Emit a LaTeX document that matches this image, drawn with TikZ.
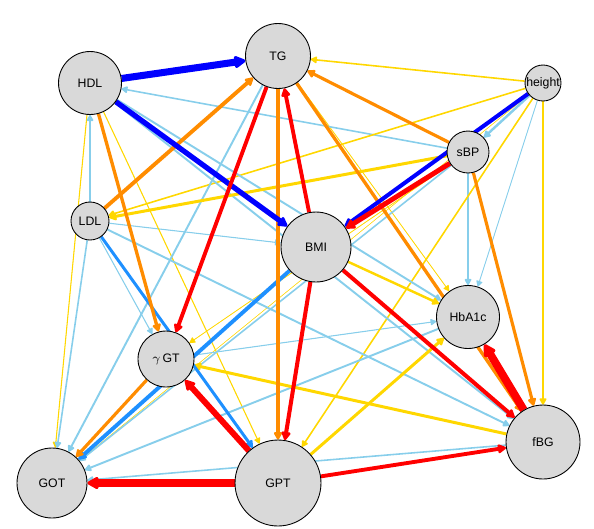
\documentclass[tikz,border=0pt]{standalone}
\usepackage{fontspec}
\setmainfont{Liberation Sans}
\usetikzlibrary{arrows.meta,backgrounds}

\definecolor{nodegray}{RGB}{217,217,217}
\definecolor{skyblue}{RGB}{135,206,235}
\definecolor{dodgerblue}{RGB}{30,144,255}
\definecolor{darkorange}{RGB}{255,140,0}
\definecolor{gold}{RGB}{255,215,0}

\tikzset{
	var/.style={draw, circle, fill=nodegray, inner sep=0pt, line width=0.5pt, font=\fontsize{7}{8}\selectfont},
	link/.style={-{Triangle[length=3pt 1.1, width=3.2pt 1.1, round]}},
	bluelink/.style={link, draw=blue, fill=blue},
	redlink/.style={link, draw=red, fill=red},
	orangelink/.style={link, draw=darkorange, fill=darkorange},
	goldlink/.style={link, draw=gold, fill=gold},
	skylink/.style={link, draw=skyblue, fill=skyblue},
	dodgerlink/.style={link, draw=dodgerblue, fill=dodgerblue}
}

\begin{document}
\begin{tikzpicture}[x=0.02cm, y=-0.02cm]
	\useasboundingbox (0,0) rectangle (594,528);

	% variables
	\node[var, minimum size=1.26cm] (HDL) at (90,83) {HDL};
	\node[var, minimum size=1.30cm] (TG) at (278,56) {TG};
	\node[var, minimum size=0.72cm] (height) at (543,83) {\makebox[0pt]{height}};
	\node[var, minimum size=0.84cm] (sBP) at (468,152) {sBP};
	\node[var, minimum size=0.76cm] (LDL) at (90,221) {LDL};
	\node[var, minimum size=1.40cm] (BMI) at (316,247) {BMI};
	\node[var, minimum size=1.26cm] (HbA1c) at (468,317) {HbA1c};
	\node[var, minimum size=1.12cm] (gGT) at (166,359) {$\gamma$\,GT};
	\node[var, minimum size=1.48cm] (fBG) at (543,442) {fBG};
	\node[var, minimum size=1.40cm] (GOT) at (52,483) {GOT};
	\node[var, minimum size=1.72cm] (GPT) at (278,483) {GPT};

	\begin{scope}[on background layer]
		% thin links first
		\draw[goldlink, line width=0.3pt] (height) -- (GOT);
		\draw[goldlink, line width=0.45pt] (TG) -- (HbA1c);
		\draw[goldlink, line width=0.45pt] (sBP) -- (gGT);
		\draw[skylink, line width=0.5pt] (height) -- (HbA1c);
		\draw[skylink, line width=0.6pt] (LDL) -- (BMI);
		\draw[skylink, line width=0.6pt] (LDL) -- (gGT);
		\draw[skylink, line width=0.6pt] (gGT) -- (HbA1c);
		\draw[goldlink, line width=0.6pt] (HDL) -- (GPT);
		\draw[goldlink, line width=0.6pt] (HDL) -- (GOT);
		\draw[skylink, line width=0.9pt] (sBP) -- (HDL);
		\draw[skylink, line width=0.9pt] (LDL) -- (HDL);
		\draw[skylink, line width=0.9pt] (LDL) -- (GOT);
		\draw[skylink, line width=0.9pt] (sBP) -- (GOT);
		\draw[skylink, line width=0.9pt] (sBP) -- (HbA1c);
		\draw[skylink, line width=0.9pt] (fBG) -- (GOT);
		\draw[goldlink, line width=0.9pt] (height) -- (LDL);
		\draw[goldlink, line width=0.9pt] (height) -- (TG);
		\draw[goldlink, line width=0.9pt] (height) -- (GPT);
		\draw[goldlink, line width=1.1pt] (height) -- (fBG);
		\draw[skylink, line width=1.1pt] (HDL) -- (HbA1c);
		\draw[skylink, line width=1.1pt] (HDL) -- (fBG);
		\draw[skylink, line width=1.1pt] (LDL) -- (fBG);
		\draw[skylink, line width=1.1pt] (TG) -- (GOT);
		\draw[skylink, line width=1.1pt] (HbA1c) -- (GOT);
		\draw[skylink, line width=1.4pt] (height) -- (sBP);

		% medium links
		\draw[goldlink, line width=1.4pt] (BMI) -- (HbA1c);
		\draw[goldlink, line width=1.7pt] (sBP) -- (LDL);
		\draw[goldlink, line width=1.7pt] (GPT) -- (HbA1c);
		\draw[goldlink, line width=1.7pt] (fBG) -- (gGT);
		\draw[dodgerlink, line width=1.7pt] (LDL) -- (GPT);
		\draw[dodgerlink, line width=2.2pt] (BMI) -- (GOT);
		\draw[orangelink, line width=1.9pt] (HDL) -- (gGT);
		\draw[orangelink, line width=2.2pt] (LDL) -- (TG);
		\draw[orangelink, line width=1.8pt] (TG) -- (GPT);
		\draw[orangelink, line width=1.9pt] (TG) -- (fBG);
		\draw[orangelink, line width=1.8pt] (sBP) -- (TG);
		\draw[orangelink, line width=1.8pt] (sBP) -- (fBG);
		\draw[orangelink, line width=1.8pt] (gGT) -- (GOT);

		% strong links
		\draw[bluelink, line width=2.3pt] (height) -- (BMI);
		\draw[bluelink, line width=3pt] (HDL) -- (BMI);
		\draw[bluelink, line width=4pt] (HDL) -- (TG);
		\draw[redlink, line width=2.8pt] (sBP) -- (BMI);
		\draw[redlink, line width=2.2pt] (TG) -- (gGT);
		\draw[redlink, line width=2.2pt] (BMI) -- (TG);
		\draw[redlink, line width=2.3pt] (BMI) -- (GPT);
		\draw[redlink, line width=2.3pt] (BMI) -- (fBG);
		\draw[redlink, line width=2.2pt] (GPT) -- (fBG);
		\draw[redlink, line width=3.4pt] (GPT) -- (gGT);
		\draw[redlink, line width=4pt] (GPT) -- (GOT);
		\draw[redlink, line width=4.5pt] (fBG) -- (HbA1c);
	\end{scope}

\end{tikzpicture}
\end{document}
